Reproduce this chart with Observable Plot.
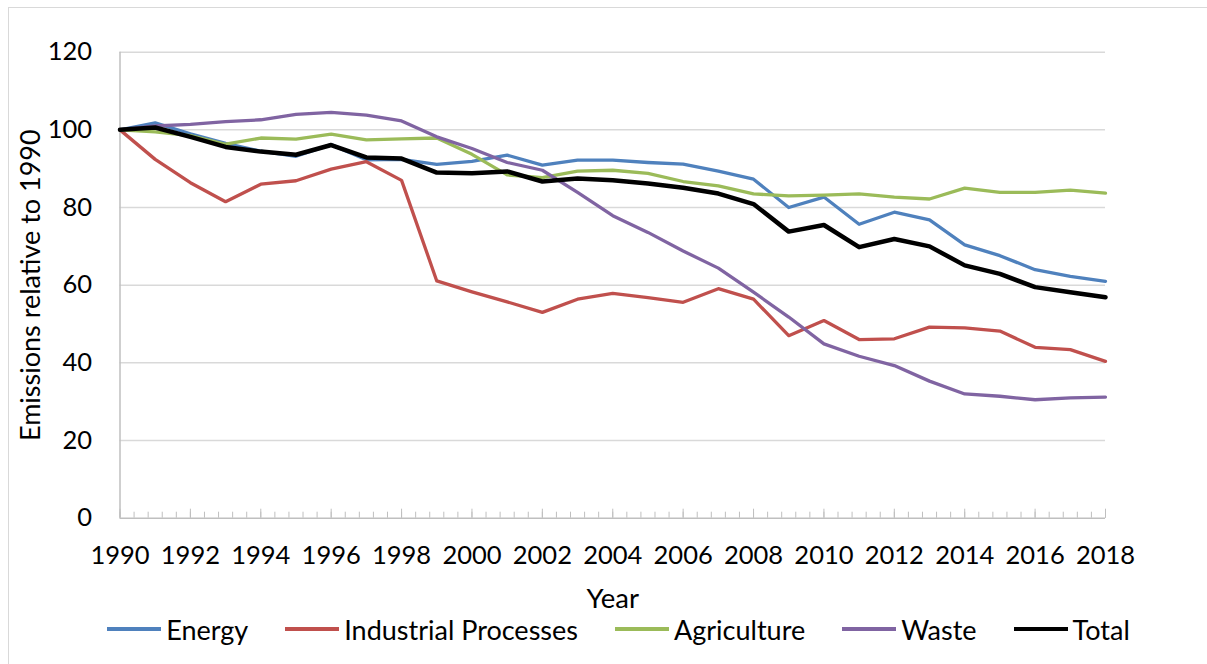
<!DOCTYPE html>
<html>
<head>
<meta charset="utf-8">
<script src="https://cdn.jsdelivr.net/npm/d3@7"></script>
<script src="https://cdn.jsdelivr.net/npm/@observablehq/plot@0.6"></script>
<style>
  html, body { margin: 0; padding: 0; background: #fff; overflow: hidden; width: 1207px; height: 664px; }
  #frame { position: absolute; left: 8px; top: 7px; width: 1400px; height: 900px; border: 1.5px solid #D9D9D9; box-sizing: border-box; }
  #chart { position: absolute; left: 0; top: 0; }
  #legend { position: absolute; left: 15px; top: 611px; width: 1207px; height: 36px; display: flex; justify-content: center; align-items: center; font-family: Lato, sans-serif; font-size: 27px; color: #000; }
  .item { display: flex; align-items: center; margin: 0 18.5px; }
  .sw { width: 54px; height: 3.3px; margin-right: 5px; }
</style>
</head>
<body>
<div id="frame"></div>
<div id="chart"></div>
<div id="legend"></div>
<script>
const years = [1990,1991,1992,1993,1994,1995,1996,1997,1998,1999,2000,2001,2002,2003,2004,2005,2006,2007,2008,2009,2010,2011,2012,2013,2014,2015,2016,2017,2018];
const energy      = [100,101.8,99.0,96.5,94.5,93.2,96.2,92.3,92.4,91.1,91.9,93.5,90.9,92.2,92.2,91.6,91.2,89.4,87.3,80.0,82.7,75.7,78.8,76.8,70.4,67.6,64.0,62.3,61.0];
const industrial  = [100,92.4,86.4,81.5,86.0,86.9,89.9,91.8,87.0,61.1,58.3,55.7,53.0,56.4,57.9,56.8,55.6,59.1,56.4,47.0,50.9,46.0,46.2,49.2,49.0,48.2,44.0,43.4,40.4];
const agriculture = [100,99.5,98.5,96.3,97.9,97.6,98.9,97.4,97.7,97.9,93.7,88.4,87.7,89.4,89.6,88.8,86.7,85.6,83.5,83.0,83.2,83.5,82.7,82.2,85.0,83.9,83.9,84.5,83.7];
const waste       = [100,101.0,101.4,102.1,102.6,104.0,104.5,103.8,102.3,98.2,95.2,91.6,89.6,83.9,77.9,73.6,68.8,64.4,58.2,51.8,44.9,41.7,39.3,35.3,32.0,31.4,30.5,31.0,31.2];
const total       = [100,100.6,98.2,95.6,94.4,93.6,96.1,92.9,92.6,89.0,88.8,89.3,86.7,87.5,87.0,86.2,85.1,83.6,80.9,73.8,75.5,69.8,71.9,70.0,65.1,62.9,59.5,58.2,56.9];

const seriesNames = ["Energy", "Industrial Processes", "Agriculture", "Waste", "Total"];
const seriesColors = ["#4F81BD", "#C0504D", "#9BBB59", "#8064A2", "#000000"];
const yTicks = [0, 20, 40, 60, 80, 100, 120];
const xMajorTicks = [1990,1992,1994,1996,1998,2000,2002,2004,2006,2008,2010,2012,2014,2016,2018];
const xMinorTicks = d3.range(0, 71).map(i => 1990 + i * 0.4);

const seriesValues = [energy, industrial, agriculture, waste, total];
const data = seriesNames.flatMap((name, s) => years.map((year, i) => ({series: name, year, value: seriesValues[s][i]})));

const H = 612;
const chart = Plot.plot({
  width: 1207,
  height: H,
  marginLeft: 119.5,
  marginRight: 102,
  marginTop: 51.7,
  marginBottom: H - 517.7,
  x: {domain: [1990, 2018]},
  y: {domain: [0, 120]},
  color: {domain: seriesNames, range: seriesColors},
  style: {fontFamily: "Lato, sans-serif", fontSize: "25.5px", color: "#000", background: "transparent", overflow: "visible"},
  marks: [
    Plot.gridY(yTicks.filter(d => d > 0), {stroke: "#D9D9D9", strokeOpacity: 1, strokeWidth: 1.5}),
    Plot.axisY(yTicks, {tickSize: 0, tickPadding: 28, label: null}),
    Plot.axisY({tickSize: 0, ticks: [], label: "Emissions relative to 1990", labelAnchor: "center", labelArrow: "none", labelOffset: 99, fontSize: 27}),
    Plot.axisX(xMajorTicks, {tickSize: 0, tickPadding: 28, tickFormat: d => String(d), label: null}),
    Plot.axisX({tickSize: 0, ticks: [], label: "Year", labelAnchor: "center", labelArrow: "none", labelOffset: 90, fontSize: 27.5}),
    Plot.axisX(xMinorTicks, {tickSize: -6, tickFormat: () => "", label: null, stroke: "#BFBFBF"}),
    Plot.axisX(xMajorTicks, {tickSize: -9, tickFormat: () => "", label: null, stroke: "#BFBFBF"}),
    Plot.ruleY([0], {stroke: "#BFBFBF", strokeWidth: 1.5}),
    Plot.ruleX([1990], {y1: 0, y2: 120, stroke: "#BFBFBF", strokeWidth: 1.5}),
    Plot.line(data.filter(d => d.series !== "Total"), {x: "year", y: "value", z: "series", stroke: "series", strokeWidth: 3.3, strokeLinejoin: "round", strokeLinecap: "round"}),
    Plot.line(data.filter(d => d.series === "Total"), {x: "year", y: "value", z: "series", stroke: "series", strokeWidth: 4.5, strokeLinejoin: "round", strokeLinecap: "round"})
  ]
});
document.getElementById("chart").appendChild(chart);

const legend = document.getElementById("legend");
seriesNames.forEach((name, i) => {
  const item = document.createElement("div");
  item.className = "item";
  const sw = document.createElement("div");
  sw.className = "sw";
  sw.style.background = seriesColors[i];
  const label = document.createElement("span");
  label.textContent = name;
  item.appendChild(sw);
  item.appendChild(label);
  legend.appendChild(item);
});
</script>
</body>
</html>
